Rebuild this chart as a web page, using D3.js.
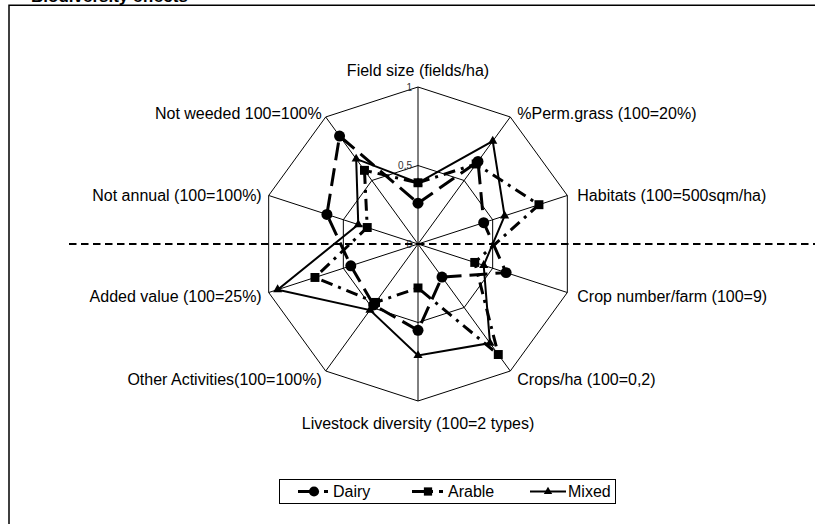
<!DOCTYPE html>
<html><head><meta charset="utf-8">
<script src="https://cdn.jsdelivr.net/npm/d3@7"></script>
<style>
html,body{margin:0;padding:0;background:#fff;}
svg{display:block;font-family:"Liberation Sans",Arial,sans-serif;}
</style></head>
<body><svg id="c" width="815" height="524"></svg>
<script>
const axes = ["Field size (fields/ha)","%Perm.grass (100=20%)","Habitats (100=500sqm/ha)","Crop number/farm (100=9)","Crops/ha (100=0,2)","Livestock diversity (100=2 types)","Other Activities(100=100%)","Added value (100=25%)","Not annual (100=100%)","Not weeded 100=100%"];
const dairy  = [0.26,0.65,0.44,0.59,0.26,0.55,0.48,0.45,0.61,0.85];
const arable = [0.39,0.63,0.81,0.38,0.87,0.28,0.46,0.69,0.34,0.58];
const mixed  = [0.39,0.81,0.58,0.44,0.78,0.71,0.52,0.94,0.40,0.67];
const seriesNames = ["Dairy","Arable","Mixed"];
const tickValues = [0,0.5,1];
const tickLabels = ["0","0,5","1"];
const title = "Biodiversity effects";

const svg = d3.select("#c");
const cx = 418, cy = 244, R = 157;
const r = d3.scaleLinear().domain([0,1]).range([0,R]);
const ang = d3.scaleLinear().domain([0,axes.length]).range([0,2*Math.PI]);
const g = svg.append("g").attr("transform",`translate(${cx},${cy})`);

// frame + title (title is cut by the top edge, as in the reference)
svg.append("text").attr("x",31).attr("y",1.5).attr("font-size",17).attr("font-weight","bold").attr("fill","#000").text(title);
svg.append("path").attr("d","M9,524V5.3H815").attr("fill","none").attr("stroke","#000").attr("stroke-width",1.5);

// grid rings
const ringLine = d3.lineRadial().angle((d,i)=>ang(i)).radius(d=>r(d)).curve(d3.curveLinearClosed);
[0.5,1].forEach(v=>{
  g.append("path").attr("d",ringLine(axes.map(()=>v))).attr("fill","none").attr("stroke","#000").attr("stroke-width",1);
});
axes.forEach((a,i)=>{
  const t = ang(i);
  g.append("line").attr("x1",0).attr("y1",0)
   .attr("x2",r(1)*Math.sin(t)).attr("y2",-r(1)*Math.cos(t))
   .attr("stroke","#000").attr("stroke-width",1);
});

// horizontal dashed line
svg.append("line").attr("x1",69).attr("x2",815).attr("y1",cy).attr("y2",cy)
  .attr("stroke","#000").attr("stroke-width",2).attr("stroke-dasharray","7.5,4.5");

// tick labels
tickValues.forEach((v,i)=>{
  g.append("text").attr("x",-6).attr("y",-r(v)).attr("dy","0.35em")
   .attr("text-anchor","end").attr("font-size",10).attr("fill","#333").text(tickLabels[i]);
});

// axis labels
axes.forEach((a,i)=>{
  const t = ang(i), s = Math.sin(t), c = Math.cos(t);
  let x = r(1)*s, y = -r(1)*c, anchor = "middle";
  if (s > 0.1) { anchor = "start"; x += (Math.abs(s)>0.9 ? 10 : 7); y += 2 - 7.5*c; }
  else if (s < -0.1) { anchor = "end"; x -= (Math.abs(s)>0.9 ? 7 : 4); y += 2 - 7.5*c; }
  else if (c > 0) { y -= 17; }
  else { y += 22; }
  g.append("text").attr("x",x).attr("y",y).attr("dy","0.35em").attr("text-anchor",anchor)
   .attr("font-size",16).attr("fill","#000").text(a);
});

// series
const styles = [
  {data:dairy, dash:"18,8", width:3, marker:"circle"},
  {data:arable, dash:"12,6,3,6", width:3, marker:"square"},
  {data:mixed, dash:null, width:2, marker:"triangle"}
];
const sym = {circle:d3.symbolCircle, square:d3.symbolSquare, triangle:d3.symbolTriangle};
const symSize = {circle:95, square:80, triangle:36};
const line = d3.lineRadial().angle((d,i)=>ang(i)).radius(d=>r(d)).curve(d3.curveLinearClosed);
styles.forEach(st=>{
  g.append("path").attr("d",line(st.data)).attr("fill","none").attr("stroke","#000")
   .attr("stroke-width",st.width).attr("stroke-dasharray",st.dash).attr("stroke-linejoin","miter");
});
styles.forEach(st=>{
  st.data.forEach((v,i)=>{
    const t = ang(i);
    g.append("path").attr("d",d3.symbol(sym[st.marker],symSize[st.marker])())
     .attr("transform",`translate(${r(v)*Math.sin(t)},${-r(v)*Math.cos(t)})`).attr("fill","#000");
  });
});

// legend
const lg = svg.append("g");
lg.append("rect").attr("x",279.5).attr("y",479.5).attr("width",336).attr("height",24)
  .attr("fill","#fff").attr("stroke","#000").attr("stroke-width",1);
const legX = [298,412,530];
const legW = [30,31,36];
styles.forEach((st,k)=>{
  const y = 491.5;
  lg.append("line").attr("x1",legX[k]).attr("x2",legX[k]+legW[k]).attr("y1",y).attr("y2",y)
    .attr("stroke","#000").attr("stroke-width",st.width).attr("stroke-dasharray",st.dash);
  lg.append("path").attr("d",d3.symbol(sym[st.marker],symSize[st.marker]*0.85)())
    .attr("transform",`translate(${legX[k]+(k===2?18:16)},${y})`).attr("fill","#000");
  lg.append("text").attr("x",legX[k]+legW[k]+(k===2?2:5)).attr("y",y).attr("dy","0.35em")
    .attr("font-size",16).attr("fill","#000").text(seriesNames[k]);
});
</script></body></html>
